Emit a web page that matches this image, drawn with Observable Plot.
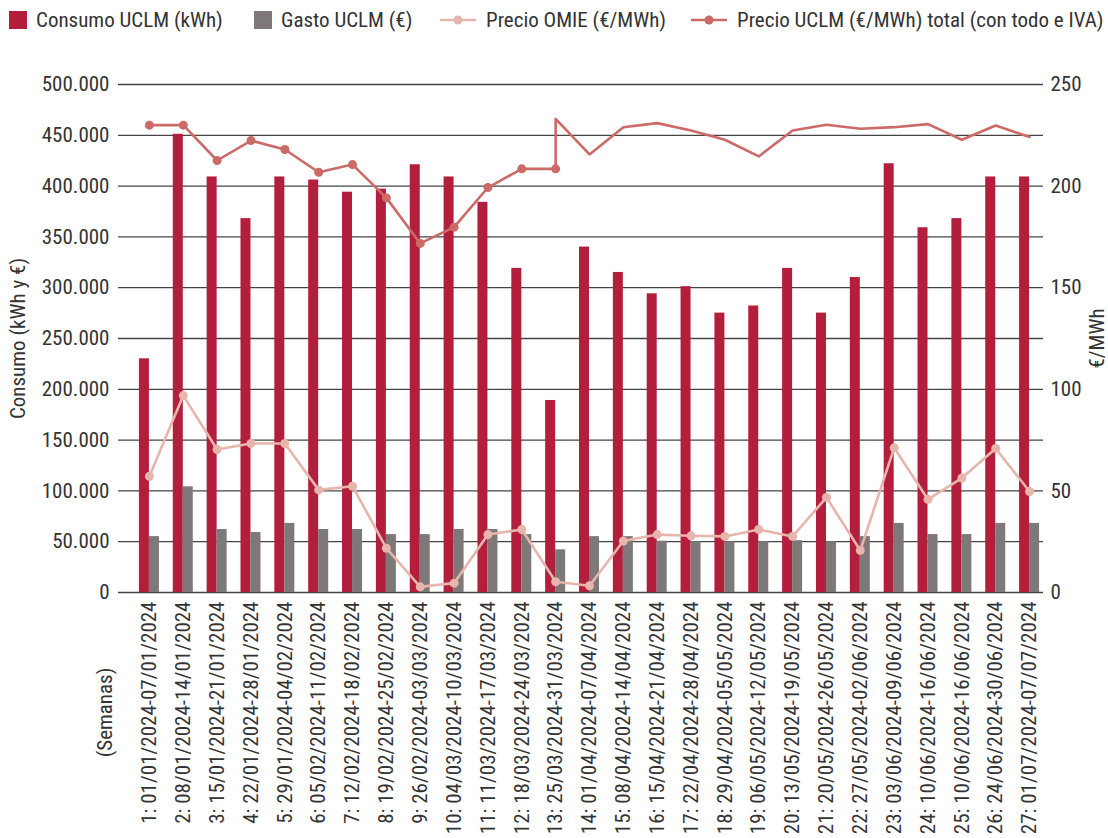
<!DOCTYPE html>
<html>
<head>
<meta charset="utf-8">
<script src="https://cdn.jsdelivr.net/npm/d3@7"></script>
<script src="https://cdn.jsdelivr.net/npm/@observablehq/plot@0.6"></script>
<style>
  html, body { margin: 0; padding: 0; background: #fff; }
  body { width: 1108px; height: 838px; overflow: hidden; font-family: 'Roboto Condensed', 'Liberation Sans Narrow', 'DejaVu Sans Condensed', Roboto, sans-serif; color: #333; }
  #legend { position: relative; height: 40px; font-size: 21px; }
  .item { position: absolute; top: 0; height: 40px; display: flex; align-items: center; white-space: nowrap; }
  .sw { width: 18px; height: 18px; margin-right: 9px; }
  .ln { margin-right: 10px; }
  #chart svg { display: block; }
</style>
</head>
<body>
<div id="legend"></div>
<div id="chart"></div>
<script>
const weeks = [
  "1: 01/01/2024-07/01/2024", "2: 08/01/2024-14/01/2024", "3: 15/01/2024-21/01/2024",
  "4: 22/01/2024-28/01/2024", "5: 29/01/2024-04/02/2024", "6: 05/02/2024-11/02/2024",
  "7: 12/02/2024-18/02/2024", "8: 19/02/2024-25/02/2024", "9: 26/02/2024-03/03/2024",
  "10: 04/03/2024-10/03/2024", "11: 11/03/2024-17/03/2024", "12: 18/03/2024-24/03/2024",
  "13: 25/03/2024-31/03/2024", "14: 01/04/2024-07/04/2024", "15: 08/04/2024-14/04/2024",
  "16: 15/04/2024-21/04/2024", "17: 22/04/2024-28/04/2024", "18: 29/04/2024-05/05/2024",
  "19: 06/05/2024-12/05/2024", "20: 13/05/2024-19/05/2024", "21: 20/05/2024-26/05/2024",
  "22: 27/05/2024-02/06/2024", "23: 03/06/2024-09/06/2024", "24: 10/06/2024-16/06/2024",
  "25: 10/06/2024-16/06/2024", "26: 24/06/2024-30/06/2024", "27: 01/07/2024-07/07/2024"
];
const consumo = [230000, 451000, 409000, 368000, 409000, 406000, 394000, 397000, 421000, 409000, 384000, 319000, 189000, 340000, 315000, 294000, 301000, 275000, 282000, 319000, 275000, 310000, 422000, 359000, 368000, 409000, 409000];
const gasto = [55000, 104000, 62000, 59000, 68000, 62000, 62000, 57000, 57000, 62000, 62000, 57000, 42000, 55000, 55000, 50500, 50000, 50000, 50000, 51000, 50000, 55000, 68000, 57000, 57000, 68000, 68000];
const precioOmie = [57.2, 96.9, 70.4, 73.3, 73.3, 50.5, 52.3, 21.8, 2.8, 4.6, 28.5, 31, 5.3, 3.3, 25.3, 28.5, 27.9, 27.6, 31, 27.6, 46.8, 20.7, 71.2, 45.8, 56.3, 70.9, 49.7];
// Precio UCLM: weeks 1-13 drawn with markers, weeks 13-27 drawn without markers
const precioUclmMarcado = [230, 230, 212.6, 222.4, 218, 206.8, 210.6, 194.2, 171.8, 179.8, 199.3, 208.5, 208.5];
const precioUclmResto = [233.1, 215.6, 229, 231, 227.4, 222.8, 214.6, 227.4, 230.2, 228.2, 229, 230.5, 222.8, 229.8, 224.2];
const leftTicks = [0, 50000, 100000, 150000, 200000, 250000, 300000, 350000, 400000, 450000, 500000];
const rightTicks = [0, 50, 100, 150, 200, 250];

const C_CONS = "#B31E3D", C_GASTO = "#7E7878", C_OMIE = "#E6B5AB", C_UCLM = "#CC6A67";
const FONT = "'Roboto Condensed', 'Liberation Sans Narrow', 'DejaVu Sans Condensed', Roboto, sans-serif";
const FS = 21;
const RATIO = 2000; // right axis (€/MWh) -> left axis units

const bars = weeks.map((w, i) => ({week: w, consumo: consumo[i], gasto: gasto[i]}));
const omie = weeks.map((w, i) => ({week: w, v: precioOmie[i]}));
const uclmA = precioUclmMarcado.map((v, i) => ({week: weeks[i], v}));
const uclmB = precioUclmResto.map((v, i) => ({week: weeks[12 + i], v}));
const uclmLine = uclmA.concat(uclmB);

const loc = d3.formatLocale({decimal: ",", thousands: ".", grouping: [3], currency: ["", "€"]});
const fmt = loc.format(",d");

const x0 = 132, x1 = 1046;
const bw = (x1 - x0) / weeks.length;
const barW = 10;

const chart = Plot.plot({
  width: 1108, height: 798,
  marginTop: 44, marginBottom: 246, marginLeft: 118, marginRight: 65,
  style: {fontFamily: FONT, fontSize: FS + "px", color: "#333", background: "#fff"},
  x: {type: "band", domain: weeks, range: [x0, x1], padding: 0, round: false},
  y: {domain: [0, 500000]},
  marks: [
    Plot.ruleY(leftTicks, {stroke: "#454545", strokeWidth: 1.3}),
    Plot.barY(bars, {x: "week", y: "consumo", fill: C_CONS, insetLeft: bw / 2 - barW, insetRight: bw / 2}),
    Plot.barY(bars, {x: "week", y: "gasto", fill: C_GASTO, insetLeft: bw / 2, insetRight: bw / 2 - barW}),
    Plot.line(omie, {x: "week", y: d => d.v * RATIO, stroke: C_OMIE, strokeWidth: 2.6}),
    Plot.dot(omie, {x: "week", y: d => d.v * RATIO, fill: C_OMIE, r: 4.5}),
    Plot.line(uclmLine, {x: "week", y: d => d.v * RATIO, stroke: C_UCLM, strokeWidth: 2.6}),
    Plot.dot(uclmA, {x: "week", y: d => d.v * RATIO, fill: C_UCLM, r: 4.5}),
    Plot.axisY({anchor: "left", ticks: leftTicks, tickSize: 0, tickPadding: 9, tickFormat: fmt, label: null, fontSize: FS}),
    Plot.axisY({anchor: "right", ticks: rightTicks.map(v => v * RATIO), tickSize: 0, tickPadding: 7, tickFormat: d => String(d / RATIO), label: null, fontSize: FS}),
    Plot.axisX({anchor: "bottom", tickRotate: -90, tickSize: 0, tickPadding: 9, label: null, fontSize: FS}),
    Plot.text(["Consumo (kWh y €)"], {frameAnchor: "left", dx: -100, rotate: -90, textAnchor: "middle", lineAnchor: "middle", fontSize: FS, fill: "#333"}),
    Plot.text(["€/MWh"], {frameAnchor: "right", dx: 54, rotate: -90, textAnchor: "middle", lineAnchor: "middle", fontSize: FS, fill: "#333"}),
    Plot.text(["(Semanas)"], {frameAnchor: "bottom-left", dx: -13, dy: 120, rotate: -90, textAnchor: "middle", lineAnchor: "middle", fontSize: FS, fill: "#333"})
  ]
});
document.getElementById("chart").appendChild(chart);

// Legend
const legendItems = [
  {label: "Consumo UCLM (kWh)", type: "rect", color: C_CONS, left: 9},
  {label: "Gasto UCLM (€)", type: "rect", color: C_GASTO, left: 254},
  {label: "Precio OMIE (€/MWh)", type: "line", color: C_OMIE, left: 440},
  {label: "Precio UCLM (€/MWh) total (con todo e IVA)", type: "line", color: C_UCLM, left: 691}
];
const lg = d3.select("#legend");
for (const it of legendItems) {
  const d = lg.append("div").attr("class", "item").style("left", it.left + "px");
  if (it.type === "rect") {
    d.append("div").attr("class", "sw").style("background", it.color);
  } else {
    const s = d.append("svg").attr("class", "ln").attr("width", 36).attr("height", 12);
    s.append("line").attr("x1", 0).attr("x2", 36).attr("y1", 6).attr("y2", 6).attr("stroke", it.color).attr("stroke-width", 2.6);
    s.append("circle").attr("cx", 18).attr("cy", 6).attr("r", 4.5).attr("fill", it.color);
  }
  d.append("span").text(it.label);
}
</script>
</body>
</html>
